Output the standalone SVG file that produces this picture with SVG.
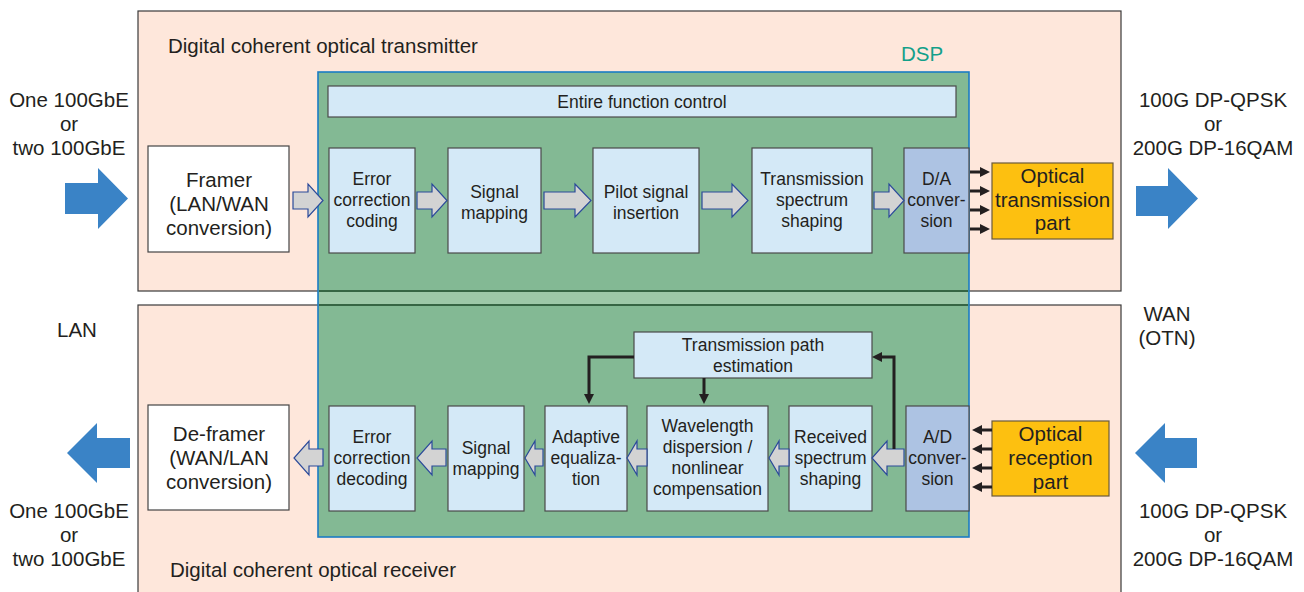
<svg xmlns="http://www.w3.org/2000/svg" width="1304" height="592" viewBox="0 0 1304 592">
  <style>
    text { font-family: "Liberation Sans", Arial, Helvetica, sans-serif; fill: #231f20; text-anchor: middle; }
    .lbl { font-size: 20.5px; }
    .box { font-size: 17.5px; }
    .panel { fill: #fee7db; stroke: #3a3a3a; stroke-width: 1.2; }
    .blk { fill: #d4e9f7; stroke: #4a4a4a; stroke-width: 1.2; }
    .conv { fill: #adc3e3; stroke: #4a4a4a; stroke-width: 1.2; }
    .opt { fill: #fdc010; stroke: #6b5a3a; stroke-width: 1.2; }
    .frm { fill: #ffffff; stroke: #444; stroke-width: 1.2; }
    .hollow { fill: #d3d3d3; stroke: #2b4a9a; stroke-width: 1.2; stroke-linejoin: miter; }
    .big { fill: #3a83c6; }
    .wire { fill: none; stroke: #231f20; stroke-width: 3; marker-end: url(#ah); }
  </style>
  <defs>
    <marker id="ah" viewBox="0 0 10 10" refX="2" refY="5" markerWidth="10" markerHeight="10" markerUnits="userSpaceOnUse" orient="auto">
      <path d="M0,0 L10,5 L0,10 z" fill="#231f20"/>
    </marker>
  </defs>

  <!-- panels -->
  <g id="tx-panel">
    <rect class="panel" x="138" y="11" width="983" height="280"/>
    <text class="lbl" x="168" y="53" style="text-anchor:start">Digital coherent optical transmitter</text>
  </g>
  <g id="rx-panel">
    <rect class="panel" x="138" y="305" width="983" height="300"/>
    <text class="lbl" x="170" y="577" style="text-anchor:start">Digital coherent optical receiver</text>
  </g>

  <!-- DSP region -->
  <g id="dsp">
    <rect x="318" y="72" width="651" height="465" fill="#83b994" stroke="#1b7cc4" stroke-width="1.6"/>
    <rect x="319" y="292" width="649" height="12" fill="#9dc8a8"/>
    <line x1="319" y1="291" x2="968" y2="291" stroke="#1d4a2a" stroke-width="1.6"/>
    <line x1="319" y1="305" x2="968" y2="305" stroke="#1d4a2a" stroke-width="1.6"/>
    <text x="922" y="61" style="font-size:20.5px;fill:#13a08a">DSP</text>
  </g>

  <!-- transmitter blocks -->
  <g id="entire-control">
    <rect class="blk" x="328" y="86" width="628" height="31"/>
    <text class="box" x="642" y="108">Entire function control</text>
  </g>
  <g id="framer">
    <rect class="frm" x="148" y="146" width="141" height="106"/>
    <text class="lbl" x="219" y="187">Framer</text>
    <text class="lbl" x="219" y="211">(LAN/WAN</text>
    <text class="lbl" x="219" y="235">conversion)</text>
  </g>
  <g id="fec-coding">
    <rect class="blk" x="329" y="148" width="86" height="105"/>
    <text class="box" x="372" y="185">Error</text>
    <text class="box" x="372" y="206">correction</text>
    <text class="box" x="372" y="227">coding</text>
  </g>
  <g id="tx-mapping">
    <rect class="blk" x="448" y="148" width="93" height="105"/>
    <text class="box" x="494.5" y="198">Signal</text>
    <text class="box" x="494.5" y="219">mapping</text>
  </g>
  <g id="pilot">
    <rect class="blk" x="593" y="148" width="106" height="105"/>
    <text class="box" x="646" y="198">Pilot signal</text>
    <text class="box" x="646" y="219">insertion</text>
  </g>
  <g id="tx-shaping">
    <rect class="blk" x="752" y="148" width="120" height="105"/>
    <text class="box" x="812" y="185">Transmission</text>
    <text class="box" x="812" y="206">spectrum</text>
    <text class="box" x="812" y="227">shaping</text>
  </g>
  <g id="da">
    <rect class="conv" x="904" y="148" width="65" height="105"/>
    <text class="box" x="936.5" y="185">D/A</text>
    <text class="box" x="936.5" y="206">conver-</text>
    <text class="box" x="936.5" y="227">sion</text>
  </g>
  <g id="opt-tx">
    <rect class="opt" x="992" y="163" width="121" height="76"/>
    <text class="lbl" x="1052.5" y="183">Optical</text>
    <text class="lbl" x="1052.5" y="207">transmission</text>
    <text class="lbl" x="1052.5" y="230">part</text>
  </g>

  <!-- receiver blocks -->
  <g id="path-est">
    <rect class="blk" x="634" y="332" width="238" height="46"/>
    <text class="box" x="753" y="351">Transmission path</text>
    <text class="box" x="753" y="372">estimation</text>
  </g>
  <g id="deframer">
    <rect class="frm" x="148" y="405" width="141" height="105"/>
    <text class="lbl" x="219" y="441">De-framer</text>
    <text class="lbl" x="219" y="465">(WAN/LAN</text>
    <text class="lbl" x="219" y="489">conversion)</text>
  </g>
  <g id="fec-decoding">
    <rect class="blk" x="329" y="406" width="86" height="105"/>
    <text class="box" x="372" y="443">Error</text>
    <text class="box" x="372" y="464">correction</text>
    <text class="box" x="372" y="485">decoding</text>
  </g>
  <g id="rx-mapping">
    <rect class="blk" x="448" y="406" width="76" height="105"/>
    <text class="box" x="486" y="454">Signal</text>
    <text class="box" x="486" y="475">mapping</text>
  </g>
  <g id="adaptive-eq">
    <rect class="blk" x="545" y="406" width="82" height="105"/>
    <text class="box" x="586" y="443">Adaptive</text>
    <text class="box" x="586" y="464">equaliza-</text>
    <text class="box" x="586" y="485">tion</text>
  </g>
  <g id="disp-comp">
    <rect class="blk" x="647" y="406" width="121" height="105"/>
    <text class="box" x="707.5" y="432">Wavelength</text>
    <text class="box" x="707.5" y="453">dispersion /</text>
    <text class="box" x="707.5" y="474">nonlinear</text>
    <text class="box" x="707.5" y="495">compensation</text>
  </g>
  <g id="rx-shaping">
    <rect class="blk" x="789" y="406" width="83" height="105"/>
    <text class="box" x="830.5" y="443">Received</text>
    <text class="box" x="830.5" y="464">spectrum</text>
    <text class="box" x="830.5" y="485">shaping</text>
  </g>
  <g id="ad">
    <rect class="conv" x="906" y="406" width="63" height="105"/>
    <text class="box" x="937.5" y="443">A/D</text>
    <text class="box" x="937.5" y="464">conver-</text>
    <text class="box" x="937.5" y="485">sion</text>
  </g>
  <g id="opt-rx">
    <rect class="opt" x="992" y="421" width="117" height="75"/>
    <text class="lbl" x="1050.5" y="441">Optical</text>
    <text class="lbl" x="1050.5" y="465">reception</text>
    <text class="lbl" x="1050.5" y="489">part</text>
  </g>

  <!-- external interface labels -->
  <g id="io-labels">
    <text class="lbl" x="69" y="107">One 100GbE</text>
    <text class="lbl" x="69" y="131">or</text>
    <text class="lbl" x="69" y="155">two 100GbE</text>
    <text class="lbl" x="77" y="337">LAN</text>
    <text class="lbl" x="69" y="518">One 100GbE</text>
    <text class="lbl" x="69" y="542">or</text>
    <text class="lbl" x="69" y="566">two 100GbE</text>
    <text class="lbl" x="1213" y="107">100G DP-QPSK</text>
    <text class="lbl" x="1213" y="131">or</text>
    <text class="lbl" x="1213" y="155">200G DP-16QAM</text>
    <text class="lbl" x="1167" y="321">WAN</text>
    <text class="lbl" x="1167" y="345">(OTN)</text>
    <text class="lbl" x="1213" y="518">100G DP-QPSK</text>
    <text class="lbl" x="1213" y="542">or</text>
    <text class="lbl" x="1213" y="566">200G DP-16QAM</text>
  </g>

  <!-- connectors -->
  <g id="connectors">
    <!-- external flow arrows -->
    <polygon class="big" points="65,183 98,183 98,168 128,198.5 98,229 98,214 65,214"/>
    <polygon class="big" points="1136,186 1168,186 1168,168 1198,198.5 1168,229 1168,216 1136,216"/>
    <polygon class="big" points="130,438 97,438 97,423 67,453 97,483 97,468 130,468"/>
    <polygon class="big" points="1197,438 1165,438 1165,423 1135,453 1165,483 1165,468 1197,468"/>

    <!-- transmit data path -->
    <polygon class="hollow" points="293,192 308,192 308,184 323,200.5 308,217 308,209 293,209"/>
    <polygon class="hollow" points="417,192 432,192 432,184 447,200.5 432,217 432,209 417,209"/>
    <polygon class="hollow" points="544,192 575,192 575,184 591,200.5 575,217 575,209 544,209"/>
    <polygon class="hollow" points="702,192 732,192 732,184 748,200.5 732,217 732,209 702,209"/>
    <polygon class="hollow" points="874,192 889,192 889,184 904,200.5 889,217 889,209 874,209"/>

    <!-- receive data path -->
    <polygon class="hollow" points="323,449 309,449 309,441 294,458 309,475 309,466 323,466"/>
    <polygon class="hollow" points="446,449 432,449 432,441 417,458 432,475 432,466 446,466"/>
    <polygon class="hollow" points="543,449 535,449 535,441 525,458 535,475 535,466 543,466"/>
    <polygon class="hollow" points="647,449 637,449 637,441 627,458 637,475 637,466 647,466"/>
    <polygon class="hollow" points="789,449 779,449 779,441 769,458 779,475 779,466 789,466"/>
    <polygon class="hollow" points="904,449 887,449 887,441 872,458 887,475 887,466 904,466"/>

    <!-- D/A to optical transmitter lanes -->
    <path class="wire" d="M970,172 H982"/>
    <path class="wire" d="M970,191 H982"/>
    <path class="wire" d="M970,210 H982"/>
    <path class="wire" d="M970,229 H982"/>

    <!-- optical receiver to A/D lanes -->
    <path class="wire" d="M992,430 H980"/>
    <path class="wire" d="M992,449 H980"/>
    <path class="wire" d="M992,468 H980"/>
    <path class="wire" d="M992,487 H980"/>

    <!-- path estimation control loop -->
    <path class="wire" d="M894,449 V357 H880"/>
    <path class="wire" d="M634,357 H589 V396"/>
    <path class="wire" d="M704,378 V396"/>
  </g>
</svg>
